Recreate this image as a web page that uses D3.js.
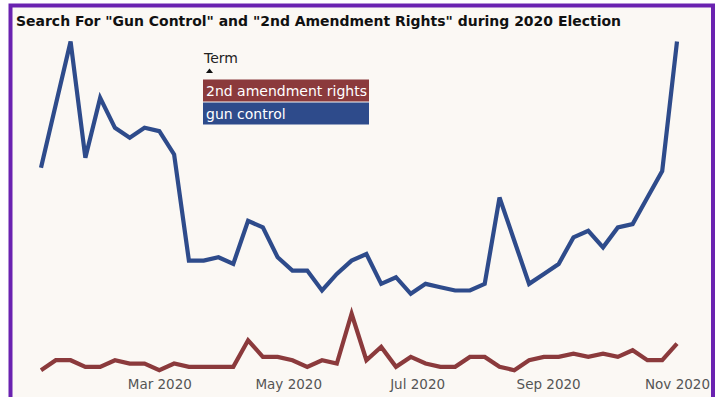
<!DOCTYPE html>
<html>
<head>
<meta charset="utf-8">
<script src="https://cdn.jsdelivr.net/npm/d3@7"></script>
<style>
  html, body { margin: 0; padding: 0; background: #ffffff; }
  svg { display: block; }
</style>
</head>
<body>
<svg id="chart" width="716" height="397"></svg>
<script>
// Weekly Google-Trends style interest (0-100), weeks starting on Sunday
const weeks = [
  "2020-01-05","2020-01-12","2020-01-19","2020-01-26","2020-02-02","2020-02-09","2020-02-16","2020-02-23",
  "2020-03-01","2020-03-08","2020-03-15","2020-03-22","2020-03-29","2020-04-05","2020-04-12","2020-04-19",
  "2020-04-26","2020-05-03","2020-05-10","2020-05-17","2020-05-24","2020-05-31","2020-06-07","2020-06-14",
  "2020-06-21","2020-06-28","2020-07-05","2020-07-12","2020-07-19","2020-07-26","2020-08-02","2020-08-09",
  "2020-08-16","2020-08-23","2020-08-30","2020-09-06","2020-09-13","2020-09-20","2020-09-27","2020-10-04",
  "2020-10-11","2020-10-18","2020-10-25","2020-11-01"
];

const gunControl = [
  62, 81, 100, 65, 83, 74, 71, 74,
  73, 66, 34, 34, 35, 33, 46, 44,
  35, 31, 31, 25, 30, 34, 36, 27,
  29, 24, 27, 26, 25, 25, 27, 53,
  40, 27, 30, 33, 41, 43, 38, 44,
  45, 53, 61, 100
];

const secondAmendment = [
  1, 4, 4, 2, 2, 4, 3, 3,
  1, 3, 2, 2, 2, 2, 10, 5,
  5, 4, 2, 4, 3, 18, 4, 8,
  2, 5, 3, 2, 2, 5, 5, 2,
  1, 4, 5, 5, 6, 5, 6, 5,
  7, 4, 4, 9
];

const terms = ["2nd amendment rights", "gun control"];
const termColors = ["#8b3a3c", "#2e4b8b"];
const tickDates = ["2020-03-01", "2020-05-01", "2020-07-01", "2020-09-01", "2020-11-01"];
const title = 'Search For "Gun Control" and "2nd Amendment Rights" during 2020 Election';

const parse = d3.utcParse("%Y-%m-%d");
const dates = weeks.map(parse);

const svg = d3.select("#chart");

// framed panel
svg.append("rect")
  .attr("x", 10.5).attr("y", 5.5)
  .attr("width", 702.5).attr("height", 400)
  .attr("fill", "#fbf8f4")
  .attr("stroke", "#6a22b0")
  .attr("stroke-width", 4);

svg.append("text")
  .attr("x", 16).attr("y", 26)
  .attr("font-family", "DejaVu Sans, sans-serif")
  .attr("font-weight", "bold")
  .attr("font-size", 13.5)
  .attr("textLength", 605)
  .attr("lengthAdjust", "spacingAndGlyphs")
  .attr("fill", "#111")
  .text(title);

const x = d3.scaleUtc()
  .domain([dates[0], dates[dates.length - 1]])
  .range([41, 677]);

const y = d3.scaleLinear()
  .domain([0, 100])
  .range([373.5, 41.5]);

const line = d3.line()
  .x((d, i) => x(dates[i]))
  .y(d => y(d));

const series = [secondAmendment, gunControl];

svg.append("g")
  .selectAll("path")
  .data(series)
  .join("path")
  .attr("d", d => line(d))
  .attr("fill", "none")
  .attr("stroke", (d, i) => termColors[i])
  .attr("stroke-width", 4.2)
  .attr("stroke-linejoin", "miter");

// bottom axis: labels only
const axis = d3.axisBottom(x)
  .tickValues(tickDates.map(parse))
  .tickFormat(d3.utcFormat("%b %Y"))
  .tickSize(0)
  .tickPadding(0);

const gx = svg.append("g")
  .attr("transform", "translate(0,376)")
  .call(axis);
gx.select(".domain").remove();
gx.selectAll("text")
  .attr("font-family", "DejaVu Sans, sans-serif")
  .attr("font-size", 13.5)
  .attr("fill", "#555")
  .attr("dy", "0.95em");

// legend
const lg = svg.append("g").attr("transform", "translate(203,0)");
lg.append("text")
  .attr("x", 1).attr("y", 63)
  .attr("font-family", "DejaVu Sans, sans-serif")
  .attr("font-size", 14)
  .attr("fill", "#222")
  .text("Term");
lg.append("path")
  .attr("d", "M3,73 L6.5,68.5 L10,73 Z")
  .attr("fill", "#111");

const rowH = 22, rowGap = 1, top0 = 79.5;
const rows = lg.selectAll("g.row")
  .data(terms)
  .join("g")
  .attr("class", "row")
  .attr("transform", (d, i) => `translate(0,${top0 + i * (rowH + rowGap)})`);
rows.append("rect")
  .attr("width", 166).attr("height", rowH)
  .attr("fill", (d, i) => termColors[i]);
rows.append("text")
  .attr("x", 3).attr("y", 16)
  .attr("font-family", "DejaVu Sans, sans-serif")
  .attr("font-size", 14)
  .attr("fill", "#fff")
  .text(d => d);
</script>
</body>
</html>
